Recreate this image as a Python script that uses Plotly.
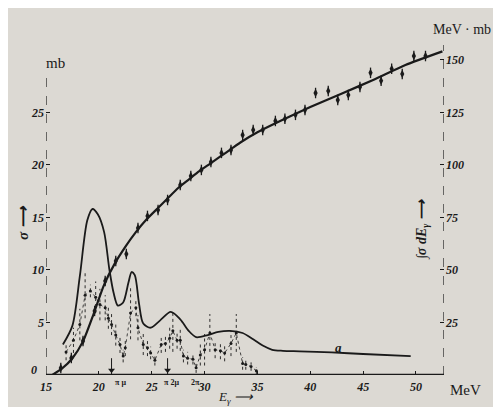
import plotly.graph_objects as go

# ---- data ----
# curve "a": total cross section sigma (mb) vs photon energy (MeV)
E_a = [16.6, 17.5, 18.2, 18.9, 19.4, 19.9, 20.5, 21.0, 21.4, 21.8, 22.3, 22.8, 23.1, 23.4, 23.8,
       24.2, 24.9, 25.8, 26.8, 27.7, 28.5, 29.2, 30.3, 31.3, 32.4, 33.6, 34.6, 35.5, 36.4, 37.4,
       39.0, 42.0, 45.0, 49.5]
sig_a = [2.9, 4.7, 9.4, 14.7, 15.8, 15.3, 13.6, 10.0, 7.8, 6.6, 6.9, 8.8, 9.8, 9.5, 6.8,
         4.9, 4.5, 5.2, 6.0, 5.3, 4.2, 3.6, 3.8, 4.1, 4.2, 4.0, 3.4, 2.8, 2.4, 2.3,
         2.25, 2.15, 2.0, 1.8]

# measured (dotted) cross section points with error bars
E_meas = [16.9, 17.6, 18.2, 18.7, 19.2, 19.7, 20.1, 20.6, 20.9, 21.2, 21.6, 22.0, 22.3, 22.5,
          23.0, 23.5, 23.7, 24.2, 24.6, 24.9, 25.3, 25.9, 26.3, 26.7, 27.0, 27.4, 27.7, 28.0,
          28.4, 28.9, 29.2, 29.6, 30.0, 30.5, 31.0, 31.5, 31.9, 32.5, 33.0, 33.6, 33.9, 34.4, 34.9]
sig_meas = [2.2, 3.3, 4.8, 7.6, 8.0, 7.4, 6.7, 6.4, 5.4, 4.8, 3.8, 2.9, 1.8, 2.6,
            5.9, 6.4, 4.5, 2.9, 2.6, 2.1, 1.4, 2.9, 3.0, 3.5, 4.2, 3.3, 3.3, 1.8,
            1.6, 1.5, 0.7, 1.9, 2.4, 4.0, 2.4, 2.3, 2.1, 3.0, 4.0, 1.1, 1.0, 0.8, 0.4]
err_meas = [0.8, 1.2, 1.5, 2.2, 0.6, 1.5, 1.5, 1.2, 1.0, 1.0, 1.0, 0.8, 0.6, 0.8,
            2.5, 0.8, 1.2, 1.0, 0.8, 0.6, 0.5, 0.8, 0.8, 1.0, 2.0, 0.8, 1.0, 0.6,
            0.6, 0.5, 0.5, 1.0, 1.5, 1.8, 0.8, 0.8, 0.8, 1.2, 1.8, 0.6, 0.5, 0.4, 0.3]

# integrated cross section (MeV*mb), measured points and drawn curve
E_int = [16.4, 17.4, 18.5, 19.6, 20.6, 21.6, 22.6, 23.7, 24.6, 25.6, 26.5, 27.7, 28.7, 29.7,
         30.6, 31.6, 32.5, 33.6, 34.6, 35.5, 36.7, 37.6, 38.6, 39.5, 40.5, 41.7, 42.6, 43.6,
         44.7, 45.7, 46.7, 47.7, 48.7, 49.8, 50.9]
I_int = [3.3, 8.1, 16.2, 30.5, 44.7, 54.3, 57.6, 70.0, 75.7, 78.5, 83.3, 90.4, 94.7, 97.6,
         101.4, 105.7, 107.1, 114.2, 116.6, 116.6, 120.9, 121.9, 123.8, 126.1, 134.2, 135.2, 130.9, 133.3,
         137.1, 143.8, 140.0, 145.7, 143.3, 151.8, 151.8]
E_fit = [15.6, 16.5, 17.5, 18.5, 19.5, 20.5, 21.5, 22.5, 23.5, 24.5, 25.5, 26.5, 27.5, 28.5,
         29.5, 30.5, 31.5, 32.5, 33.5, 35.0, 37.0, 40.0, 43.0, 46.0, 49.0, 52.5]
I_fit = [0, 3, 8, 16, 29, 43, 53, 61, 68, 74, 79, 84, 89, 93,
         97, 100.5, 104, 107.5, 111, 115.5, 120.5, 127.5, 134, 140.5, 147.5, 154]

# threshold markers under the data
E_arrow = [21.2, 26.5]
E_thr = [22.0, 26.9, 29.1]
thr_labels = ["π μ", "π 2μ", "2π"]

x_ticks = [15, 20, 25, 30, 35, 40, 45, 50]
y_left_ticks = [5, 10, 15, 20, 25]
y_right_ticks = [25, 50, 75, 100, 125, 150]

X_MAX = 52.65
Y_MAX = 31.6
BG = "#dcd9d3"
INK = "#1a1a1a"
TICKFONT = dict(family="Liberation Serif", size=12, color=INK, style="italic", weight="bold")

# plot area in pixels
L, R, T, B = 38, 65, 35, 40
W, H = 501, 407
PW, PH = W - L - R, H - T - B


def px(xp, yp):
    return (xp - L) / PW, (H - B - yp) / PH


fig = go.Figure()

# error bars of measured points as dotted vertical segments
ex, ey = [], []
for e, s, d in zip(E_meas, sig_meas, err_meas):
    ex += [e, e, None]
    ey += [s - d, s + d, None]
fig.add_trace(go.Scatter(x=ex, y=ey, mode="lines", line=dict(color=INK, width=0.9, dash="dot"),
                         hoverinfo="skip", showlegend=False))
fig.add_trace(go.Scatter(x=E_meas, y=sig_meas, mode="lines+markers",
                         line=dict(color=INK, width=0.8, dash="dot"),
                         marker=dict(size=3, color=INK), showlegend=False))

# curve a
fig.add_trace(go.Scatter(x=E_a, y=sig_a, mode="lines", line=dict(color=INK, width=1.8, shape="spline", smoothing=0.8),
                         showlegend=False))

# integrated cross section on right axis
fig.add_trace(go.Scatter(x=E_fit, y=I_fit, mode="lines", yaxis="y2",
                         line=dict(color=INK, width=2.2, shape="spline", smoothing=0.6), showlegend=False))
fig.add_trace(go.Scatter(x=E_int, y=I_int, mode="markers", yaxis="y2",
                         marker=dict(symbol="diamond-tall", size=6, color=INK),
                         error_y=dict(type="constant", value=2.5, thickness=1.3, width=0, color=INK),
                         showlegend=False))

# axes lines (dashed verticals, solid baseline)
fig.add_shape(type="line", xref="x", yref="y", x0=15, x1=15, y0=0, y1=28.6,
              line=dict(color=INK, width=1.2, dash="dash"))
fig.add_shape(type="line", xref="x", yref="y", x0=X_MAX, x1=X_MAX, y0=0, y1=31.4,
              line=dict(color=INK, width=1.2, dash="dash"))
fig.add_shape(type="line", xref="x", yref="y", x0=15, x1=X_MAX, y0=0, y1=0,
              line=dict(color=INK, width=2.5))

# threshold arrows near the axis
for e in E_arrow:
    fig.add_shape(type="line", xref="x", yref="y", x0=e, x1=e, y0=0, y1=1.6,
                  line=dict(color=INK, width=1))
fig.add_trace(go.Scatter(x=E_arrow, y=[0.45] * len(E_arrow), mode="markers",
                         marker=dict(symbol="triangle-down", size=6, color=INK),
                         hoverinfo="skip", showlegend=False))
for e, t in zip(E_thr, thr_labels):
    fig.add_annotation(x=e, y=0, yshift=-7, xref="x", yref="y", text=t, showarrow=False,
                       font=dict(family="Liberation Serif", size=8, color=INK, weight="bold"))

# text labels (pixel positions)
annots = [
    dict(x=26, y=362, text="0", size=12, angle=0, style="italic", weight="bold"),
    dict(x=47, y=55, text="mb", size=15, angle=0, style="normal", weight="normal"),
    dict(x=454, y=22, text="MeV · mb", size=14, angle=0, style="normal", weight="normal"),
    dict(x=457, y=382, text="MeV", size=15, angle=0, style="normal", weight="normal"),
    dict(x=330, y=339, text="a", size=13, angle=0, style="italic", weight="bold"),
    dict(x=15, y=215, text="σ ⟶", size=15, angle=-90, style="italic", weight="bold"),
    dict(x=414, y=222, text="∫σ dE<sub>γ</sub> ⟶", size=14, angle=-90, style="italic", weight="bold"),
    dict(x=228, y=389, text="E<sub>γ</sub> ⟶", size=13, angle=0, style="italic", weight="normal"),
]
for a in annots:
    xp, yp = px(a["x"], a["y"])
    fig.add_annotation(x=xp, y=yp, xref="paper", yref="paper",
                       text=a["text"], showarrow=False, textangle=a["angle"],
                       xanchor="center", yanchor="middle",
                       font=dict(family="Liberation Serif", size=a["size"], color=INK,
                                 style=a["style"], weight=a["weight"]))

fig.update_layout(
    width=W, height=H,
    margin=dict(l=L, r=R, t=T, b=B),
    paper_bgcolor=BG, plot_bgcolor=BG,
    xaxis=dict(range=[15, X_MAX], tickvals=x_ticks, ticks="inside", ticklen=4, tickcolor=INK,
               showgrid=False, zeroline=False, showline=False, tickfont=TICKFONT, ticklabelstandoff=3),
    yaxis=dict(range=[0, Y_MAX], tickvals=y_left_ticks, ticks="inside", ticklen=4,
               tickcolor=INK, showgrid=False, zeroline=False, showline=False, tickfont=TICKFONT,
               ticklabelstandoff=1),
    yaxis2=dict(range=[0, Y_MAX * 5], tickvals=y_right_ticks, ticks="inside", ticklen=4, tickcolor=INK,
                overlaying="y", side="right", showgrid=False, zeroline=False, showline=False,
                tickfont=TICKFONT, ticklabelstandoff=1),
)

fig.write_html("out.html")
